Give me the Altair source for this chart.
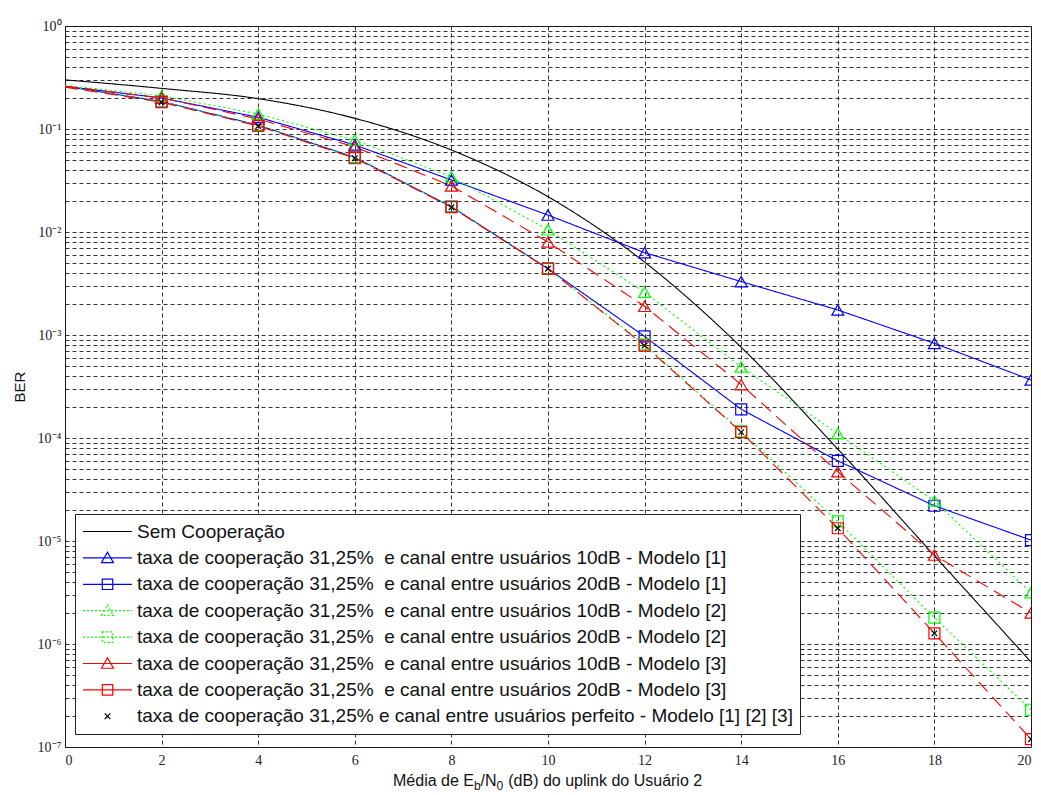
import altair as alt
import pandas as pd

# ---------------- data ----------------
snr_db = [0, 2, 4, 6, 8, 10, 12, 14, 16, 18, 20]

ber_sem_coop = [0.30, 0.248, 0.197, 0.127, 0.0625, 0.022, 0.0051, 7.6e-4, 7.8e-5, 7.2e-6, 6.7e-7]
ber_m1_10db = [0.26, 0.20, 0.13, 0.070, 0.032, 0.0146, 0.0063, 0.0033, 0.00175, 8.3e-4, 3.66e-4]
ber_m1_20db = [0.26, 0.185, 0.109, 0.053, 0.0176, 0.0044, 9.7e-4, 1.9e-4, 6.0e-5, 2.2e-5, 1.02e-5]
ber_m2_10db = [0.265, 0.21, 0.14, 0.078, 0.0344, 0.0105, 0.0026, 4.9e-4, 1.1e-4, 2.45e-5, 3.15e-6]
ber_m2_20db = [0.26, 0.185, 0.109, 0.053, 0.0176, 0.0044, 8.1e-4, 1.16e-4, 1.55e-5, 1.8e-6, 2.3e-7]
ber_m3_10db = [0.26, 0.20, 0.125, 0.067, 0.028, 0.008, 0.0019, 3.3e-4, 4.7e-5, 7.3e-6, 2.0e-6]
ber_m3_20db = [0.255, 0.182, 0.107, 0.052, 0.0174, 0.0044, 7.9e-4, 1.14e-4, 1.33e-5, 1.27e-6, 1.19e-7]
ber_perfeito = [0.255, 0.182, 0.107, 0.052, 0.0174, 0.0044, 7.9e-4, 1.14e-4, 1.33e-5, 1.27e-6, 1.19e-7]

NB = "\u00a0"
series_names = [
    "Sem Cooperação",
    f"taxa de cooperação 31,25%{NB} e canal entre usuários 10dB - Modelo [1]",
    f"taxa de cooperação 31,25%{NB} e canal entre usuários 20dB - Modelo [1]",
    f"taxa de cooperação 31,25%{NB} e canal entre usuários 10dB - Modelo [2]",
    f"taxa de cooperação 31,25%{NB} e canal entre usuários 20dB - Modelo [2]",
    f"taxa de cooperação 31,25%{NB} e canal entre usuários 10dB - Modelo [3]",
    f"taxa de cooperação 31,25%{NB} e canal entre usuários 20dB - Modelo [3]",
    "taxa de cooperação 31,25% e canal entre usuários perfeito - Modelo [1] [2] [3]",
]
series_values = [ber_sem_coop, ber_m1_10db, ber_m1_20db, ber_m2_10db,
                 ber_m2_20db, ber_m3_10db, ber_m3_20db, ber_perfeito]

x_ticks = [0, 2, 4, 6, 8, 10, 12, 14, 16, 18, 20]
y_ticks = [float(f"{m}e{k}") for k in range(-7, 0) for m in range(1, 10)] + [1.0]

# ---------------- styles ----------------
colors = ["#000000", "#0000ff", "#0000ff", "#00ff00", "#00ff00", "#ff0000", "#ff0000", "#000000"]
line_dash = [[1, 0], [1, 0], [1, 0], [2, 3], [2, 3], [13, 7], [13, 7], None]
marker = [None, "triangle-up", "square", "triangle-up", "square", "triangle-up", "square",
          "M-1,-1L1,1M-1,1L1,-1"]
marker_size = [0, 144, 121, 144, 121, 144, 121, 30]

# legend symbols: path units are sqrt(size)/2 = 9.5 px
legend_dash = [[1, 0], [1, 0], [1, 0], [2, 2], [2, 2], [1, 0], [1, 0], [1, 0]]
tri = "M-0.63,0.5L0,-0.6L0.63,0.5Z"
sq = "M-0.55,-0.55H0.55V0.55H-0.55Z"
ln = "M-2.58,0H2.58"
legend_paths = [ln, ln + tri, ln + sq, ln + tri, ln + sq, ln + tri, ln + sq,
                "M-0.3,-0.3L0.3,0.3M-0.3,0.3L0.3,-0.3"]

rows = []
for name, vals in zip(series_names, series_values):
    for xv, yv in zip(snr_db, vals):
        rows.append({"series": name, "snr": xv, "ber": yv})
df = pd.DataFrame(rows)

W, H = 966, 721

xscale = alt.Scale(domain=[0, 20], nice=False, zero=False)
yscale = alt.Scale(type="log", domain=[1e-7, 1], nice=False)

sup = ["⁰", "⁻¹", "⁻²", "⁻³", "⁻⁴", "⁻⁵", "⁻⁶", "⁻⁷"]
sup_js = "[" + ",".join(f"'{s}'" for s in sup) + "]"
ylabel_expr = (
    "(abs(log(datum.value)/LN10 - round(log(datum.value)/LN10)) < 1e-6) ? "
    f"'10' + {sup_js}[-round(log(datum.value)/LN10)] : ''"
)

x_enc = alt.X("snr:Q", scale=xscale,
              axis=alt.Axis(values=x_ticks, title=None, ticks=False, labelPadding=6,
                            labelFont="Liberation Serif", labelFontSize=14, labelColor="#222",
                            grid=True, domain=False))
y_enc = alt.Y("ber:Q", scale=yscale,
              axis=alt.Axis(values=y_ticks, labelExpr=ylabel_expr, title="BER",
                            titleFont="Liberation Sans", titleFontSize=15, titleFontWeight="normal",
                            titleColor="#111", titlePadding=10,
                            ticks=False, labelPadding=4, labelFont="Liberation Serif",
                            labelFontSize=14, labelColor="#222", grid=True, domain=False))

base = alt.Chart(df)
layers = []
for i, name in enumerate(series_names):
    sub = base.transform_filter(alt.datum.series == name)
    if line_dash[i] is not None:
        enc = dict(x=x_enc, y=y_enc) if i == 0 else dict(x=alt.X("snr:Q", scale=xscale),
                                                         y=alt.Y("ber:Q", scale=yscale))
        layers.append(
            sub.mark_line(color=colors[i], strokeWidth=1.1, strokeDash=line_dash[i],
                          interpolate="monotone" if i == 0 else "linear", clip=True)
            .encode(**enc)
        )
for i, name in enumerate(series_names):
    if marker[i] is None:
        continue
    sub = base.transform_filter((alt.datum.series == name) & (alt.datum.snr > 0))
    layers.append(
        sub.mark_point(shape=marker[i], size=marker_size[i], filled=False, opacity=1,
                       color=colors[i], strokeWidth=1.2, clip=True)
        .encode(x=alt.X("snr:Q", scale=xscale), y=alt.Y("ber:Q", scale=yscale))
    )

# legend layer (no marks drawn, only the legend from the scales)
leg = alt.Legend(orient="none", legendX=10, legendY=488, title=None,
                 fillColor="white", strokeColor="#222", padding=7,
                 labelFont="Liberation Sans", labelFontSize=19, labelColor="#111",
                 labelLimit=1000, labelOffset=19, symbolOffset=15, rowPadding=5.4,
                 symbolSize=361, symbolStrokeWidth=1.2, cornerRadius=0)
legend_layer = base.transform_filter("false").mark_point(filled=False, opacity=1).encode(
    x=alt.X("snr:Q", scale=xscale),
    y=alt.Y("ber:Q", scale=yscale),
    color=alt.Color("series:N", scale=alt.Scale(domain=series_names, range=colors), legend=leg),
    shape=alt.Shape("series:N", scale=alt.Scale(domain=series_names, range=legend_paths), legend=leg),
    strokeDash=alt.StrokeDash("series:N", scale=alt.Scale(domain=series_names, range=legend_dash), legend=leg),
)
layers.append(legend_layer)

# x-axis title with subscripts (E_b / N_0)
main_fs, sub_fs = 16, 12
seg_em = [("Média de E", 5.058, main_fs, 0, 0), ("b", 0.556, sub_fs, 3.5, 0),
          ("/N", 1.0, main_fs, 0, 0), ("0", 0.556, sub_fs, 3.5, 5),
          ("(dB) do uplink do Usuário 2", 12.116, main_fs, 0, 0)]
title_df = pd.DataFrame({"k": [0]})
x0 = 328
off = 0.0
for txt, em, fs, drop, gap in seg_em:
    layers.append(
        alt.Chart(title_df).mark_text(text=txt, align="left", baseline="alphabetic",
                                      font="Liberation Sans", fontSize=fs, color="#111",
                                      dx=off)
        .encode(x=alt.value(x0), y=alt.value(H + 39 + drop))
    )
    off += em * fs + gap

chart = alt.layer(*layers).properties(
    width=W, height=H,
    autosize=alt.AutoSizeParams(type="none"),
    padding={"left": 57, "top": 18, "right": 2, "bottom": 48},
).configure_view(
    stroke="#222", strokeWidth=1
).configure_axis(
    gridColor="#111", gridDash=[4, 3], gridOpacity=0.85, gridWidth=1
)

chart.save("out.html", embed_options={"renderer": "svg", "actions": False})
